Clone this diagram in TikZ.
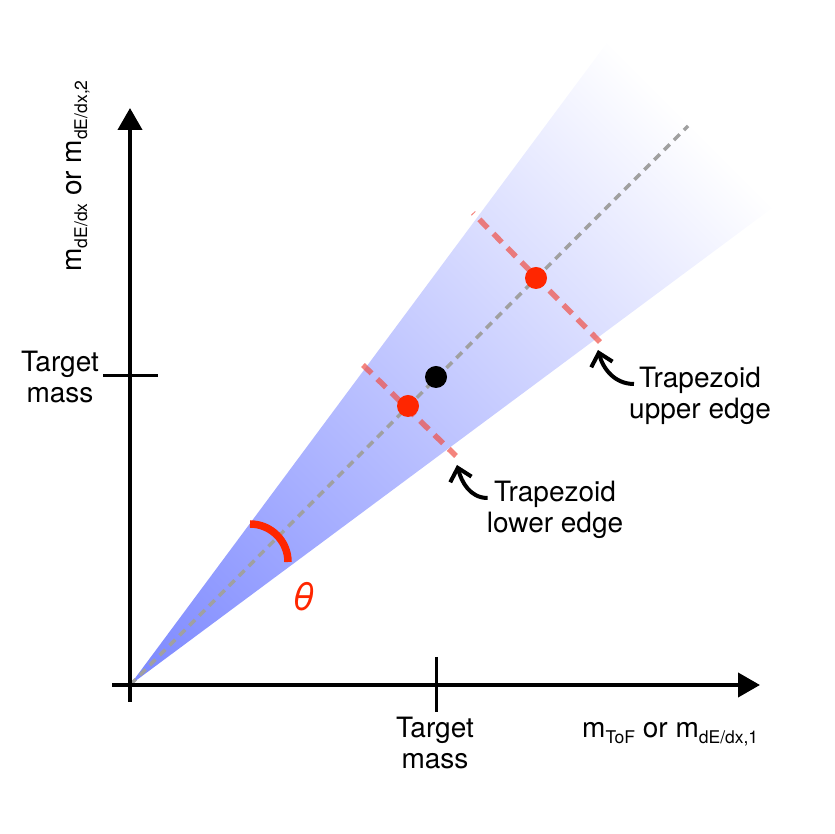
\documentclass[tikz,border=0pt]{standalone}
\usepackage{fontspec}
\setmainfont{TeX Gyre Heros}
\usepackage{tikz}
\usetikzlibrary{arrows.meta}
\tikzstyle{plotFrame} = [x = 1pt, y = 1pt, every node/.style={inner sep = 0pt}]
\definecolor{wedgeBlue}{RGB}{124,136,255}
\definecolor{pointRed}{RGB}{255,38,0}
\definecolor{edgeRed}{RGB}{240,80,70}
\definecolor{diagonalGray}{RGB}{160,160,160}
\tikzstyle{axisLine} = [line width = 4pt, -{Triangle[length = 22pt, width = 24pt]}]
\tikzstyle{tickLine} = [line width = 3pt]
\tikzstyle{diagonalLine} = [color = diagonalGray, line width = 3.5pt, dash pattern = on 8pt off 6pt]
\tikzstyle{edgeLine} = [color = edgeRed, opacity = .7, line width = 5.5pt, dash pattern = on 12pt off 8pt]
\tikzstyle{thetaArc} = [color = pointRed, line width = 7.5pt]
\tikzstyle{labelText} = [font = \fontsize{28}{31}\selectfont, align = center]
\tikzstyle{thetaText} = [font = \fontsize{38}{38}\selectfont\itshape, color = pointRed]
\tikzstyle{pointStyle} = [circle, minimum size = 22pt, inner sep = 0pt]
\tikzstyle{redPoint} = [pointStyle, fill = pointRed]
\tikzstyle{blackPoint} = [pointStyle, fill = black]
\tikzstyle{pointerArrow} = [line width = 4pt, -{Straight Barb[length = 12pt, width = 22pt]}]
\pgfdeclarehorizontalshading{wedgeShading}{100bp}{color(0bp)=(wedgeBlue); color(14.7bp)=(wedgeBlue); color(76bp)=(white); color(100bp)=(white)}
\newcommand{\massSub}[1]{\raisebox{-.2em}{\fontsize{17.5}{17.5}\selectfont #1}}
\newcommand{\wedgeLength}{808}

\begin{document}
\begin{tikzpicture}[plotFrame]
  \useasboundingbox (0,0) rectangle (834,834);
  \coordinate (origin) at (130,149);

  % wedge and diagonal
  \shade [shading = wedgeShading, shading angle = 45] (origin) -- +(53.4:\wedgeLength) -- +(36.6:\wedgeLength) -- cycle;
  \coordinate (diagonalEnd) at (688,708);
  \draw [diagonalLine] (origin) -- (diagonalEnd);

  % trapezoid edges
  \coordinate (lowerEdgeEnd) at (456,378);
  \coordinate (upperEdgeEnd) at (600,492);
  \draw [edgeLine] (363,469) -- (lowerEdgeEnd);
  \draw [edgeLine] (upperEdgeEnd) -- (473,621);

  % angle
  \draw [thetaArc] (250,310) arc [start angle = 90, end angle = 0, radius = 38];
  \node [thetaText] (thetaLabel) at (304,237) {θ};

  % points
  \node [redPoint] (lowerPoint) at (408,428) {};
  \node [blackPoint] (targetPoint) at (436,457) {};
  \node [redPoint] (upperPoint) at (536,556) {};

  % axes
  \draw [axisLine] (112,149) -- (760,149);
  \draw [axisLine] (130,132) -- (130,726);
  \draw [tickLine] (436,177) -- (436,122);
  \draw [tickLine] (103,458) -- (158,458);
  \node [labelText] (xTargetLabel) at (435,91) {Target\\mass};
  \node [labelText] (yTargetLabel) at (60,457) {Target\\mass};
  \node [labelText, anchor = base west] (xAxisLabel) at (582,96) {m\massSub{ToF} or m\massSub{dE/dx,1}};
  \node [labelText, rotate = 90] (yAxisLabel) at (78,658) {m\massSub{dE/dx} or m\massSub{dE/dx,2}};

  % labels with pointers
  \node [labelText] (upperEdgeLabel) at (700,438) {Trapezoid\\upper edge};
  \node [labelText] (lowerEdgeLabel) at (555,324) {Trapezoid\\lower edge};
  \draw [pointerArrow] ([xshift = 5pt, yshift = 12pt]upperEdgeLabel.west) to [out = 180, in = -75] ([xshift = -2pt, yshift = -8pt]upperEdgeEnd);
  \draw [pointerArrow] ([xshift = 1pt, yshift = 12pt]lowerEdgeLabel.west) to [out = 180, in = -75] ([xshift = 1pt, yshift = -9pt]lowerEdgeEnd);
\end{tikzpicture}
\end{document}
